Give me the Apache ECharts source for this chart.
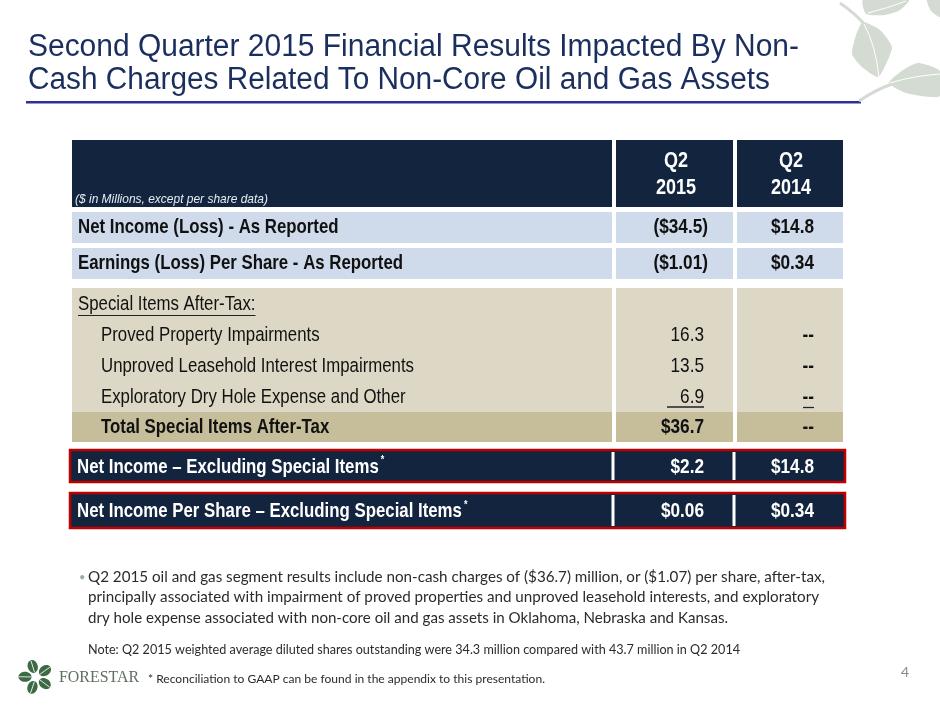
<!DOCTYPE html>
<html><head><meta charset="utf-8">
<script src="https://cdn.jsdelivr.net/npm/echarts@6/dist/echarts.min.js"></script>
<style>html,body{margin:0;padding:0;background:#fff}#c{width:940px;height:705px}</style>
</head><body><div id="c"></div>
<script>
// ---- DATA ----
const titleLines = ['Second Quarter 2015 Financial Results Impacted By Non-', 'Cash Charges Related To Non-Core Oil and Gas Assets'];
const unitNote = '($ in Millions, except per share data)';
const columnHeads = [['Q2', '2015'], ['Q2', '2014']];
const reportedLabels = ['Net Income (Loss) - As Reported', 'Earnings (Loss) Per Share - As Reported'];
const reported2015 = ['($34.5)', '($1.01)'];
const reported2014 = ['$14.8', '$0.34'];
const specialHeader = 'Special Items After-Tax:';
const specialLabels = ['Proved Property Impairments', 'Unproved Leasehold Interest Impairments', 'Exploratory Dry Hole Expense and Other'];
const special2015 = ['16.3', '13.5', '6.9'];
const special2014 = ['--', '--', '--'];
const totalLabel = 'Total Special Items After-Tax';
const total2015 = '$36.7';
const total2014 = '--';
const exclLabels = ['Net Income \u2013 Excluding Special Items', 'Net Income Per Share \u2013 Excluding Special Items'];
const excl2015 = ['$2.2', '$0.06'];
const excl2014 = ['$14.8', '$0.34'];
const bulletLines = [
  'Q2 2015 oil and gas segment results include non-cash charges of ($36.7) million, or ($1.07) per share, after-tax,',
  'principally associated with impairment of proved properties and unproved leasehold interests, and exploratory',
  'dry hole expense associated with non-core oil and gas assets in Oklahoma, Nebraska and Kansas.'
];
const noteText = 'Note: Q2 2015 weighted average diluted shares outstanding were 34.3 million compared with 43.7 million in Q2 2014';
const footText = '* Reconciliation to GAAP can be found in the appendix to this presentation.';
const logoText = 'FORESTAR';
const pageNum = '4';

// ---- LAYOUT / STYLE ----
const SANS = "'Liberation Sans',Arial,sans-serif";
const BODY = "Lato,'Open Sans',sans-serif";
const SERIF = "'Liberation Serif','DejaVu Serif',serif";
const NARROW_SCALE = 0.82;
const NAVY = '#13243f', LBLUE = '#cfdbeb', TAN = '#ddd8c5', TAN2 = '#c6be9b', RED = '#c00000';
const cols = [[72, 612], [616, 733], [737, 843]];
const v2015Right = 704, v2014Right = 814;

const mctx = document.createElement('canvas').getContext('2d');
function fontStr(o) { return `${o.style || 'normal'} ${o.weight || 'normal'} ${o.size}px ${o.family}`; }
function measure(t, o) { mctx.font = fontStr(o); return mctx.measureText(t).width; }

const els = [];
function rect(x, y, w, h, fill, extra) {
  els.push(Object.assign({type: 'rect', shape: {x, y, width: w, height: h}, style: {fill}, silent: true}, extra || {}));
}
// text: opt.scale = horizontal scale, opt.fit = target width
function text(t, x, y, opt) {
  opt = Object.assign({family: SANS, size: 21, weight: 'normal', style: 'normal', fill: '#111', align: 'left', scale: NARROW_SCALE}, opt || {});
  let sx = opt.scale;
  if (opt.fit) sx = opt.fit / measure(t, opt);
  els.push({type: 'text', silent: true, x, y, scaleX: sx, scaleY: 1, style: {
    text: t, x: 0, y: 0,
    fontFamily: opt.family, fontSize: opt.size, fontWeight: opt.weight, fontStyle: opt.style,
    fill: opt.fill, textAlign: opt.align, textVerticalAlign: 'middle', align: opt.align, verticalAlign: 'middle'
  }, z: 10});
  return measure(t, opt) * sx;
}
function line(x1, y1, x2, y2, stroke, w) {
  els.push({type: 'line', silent: true, shape: {x1, y1, x2, y2}, style: {stroke, lineWidth: w}, z: 11});
}

// Title
text(titleLines[0], 28, 47, {size: 31, fill: '#1b2f5e', fit: 771});
text(titleLines[1], 28, 80, {size: 31, fill: '#1b2f5e', fit: 742});
rect(26, 101, 835, 2.5, '#2f2f9c');

// Header
cols.forEach(c => rect(c[0], 140, c[1] - c[0], 67, NAVY));
text(unitNote, 75, 199, {size: 13, style: 'italic', fill: '#e8ecf2', fit: 193});
columnHeads.forEach((h, i) => {
  const cx = i === 0 ? 676 : 791;
  text(h[0], cx, 161, {size: 22, weight: 'bold', fill: '#fff', align: 'center'});
  text(h[1], cx, 188, {size: 22, weight: 'bold', fill: '#fff', align: 'center'});
});

// Reported rows
const repY = [[212, 31], [248, 31]];
reportedLabels.forEach((lab, i) => {
  const [y, h] = repY[i];
  cols.forEach(c => rect(c[0], y, c[1] - c[0], h, LBLUE));
  const cy = y + h / 2;
  text(lab, 78, cy, {size: 20.5, weight: 'bold'});
  const v = reported2015[i];
  text(v, v.endsWith(')') ? v2015Right + 4 : v2015Right, cy, {size: 21, weight: 'bold', align: 'right'});
  text(reported2014[i], v2014Right, cy, {size: 21, weight: 'bold', align: 'right'});
});

// Special items block
cols.forEach(c => { rect(c[0], 288, c[1] - c[0], 124, TAN); rect(c[0], 412, c[1] - c[0], 30, TAN2); });
const shw = text(specialHeader, 78, 304, {size: 20.5});
line(78, 315.5, 78 + shw, 315.5, '#222', 1);
const spY = [335, 366, 397];
specialLabels.forEach((lab, i) => {
  text(lab, 101, spY[i], {size: 20.5});
  text(special2015[i], v2015Right, spY[i], {size: 21, align: 'right'});
  text(special2014[i], v2014Right, spY[i], {size: 21, align: 'right', weight: 'bold'});
});
line(667, 407, 704, 407, '#222', 1.3);
line(803, 407.5, 814, 407.5, '#222', 1.3);
text(totalLabel, 101, 427, {size: 20.5, weight: 'bold'});
text(total2015, v2015Right, 427, {size: 21, weight: 'bold', align: 'right'});
text(total2014, v2014Right, 427, {size: 21, weight: 'bold', align: 'right'});

// Excluding special items rows
const exY = [[450, 32], [493, 35]];
exclLabels.forEach((lab, i) => {
  const [y, h] = exY[i];
  rect(70, y, 775, h, NAVY, {style: {fill: NAVY, stroke: RED, lineWidth: 2.5}});
  rect(611.5, y + 2, 3, h - 4, '#fff', {z: 5});
  rect(732.5, y + 2, 3, h - 4, '#fff', {z: 5});
  const cy = y + h / 2 + 1;
  const w = text(lab, 77, cy, {size: 20.5, weight: 'bold', fill: '#fff'});
  text('*', 77 + w + 2, cy - 7, {size: 11, weight: 'bold', fill: '#fff'});
  text(excl2015[i], v2015Right, cy, {size: 21, weight: 'bold', fill: '#fff', align: 'right'});
  text(excl2014[i], v2014Right, cy, {size: 21, weight: 'bold', fill: '#fff', align: 'right'});
});

// Bullet + notes
text('\u2022', 79, 577, {family: BODY, size: 11, fill: '#9aa', scale: 1});
const bulletFits = [737, 731, 640];
bulletLines.forEach((l, i) => text(l, 88, 577 + i * 20.5, {family: BODY, size: 15, fill: '#2b2b2b', scale: 1, fit: bulletFits[i]}));
text(noteText, 88, 650, {family: BODY, size: 12.6, fill: '#2b2b2b', scale: 1, fit: 652});
text(footText, 148, 679, {family: BODY, size: 12, fill: '#2b2b2b', scale: 1, fit: 397});
text(pageNum, 905, 672, {family: BODY, size: 14, fill: '#8a8a8a', align: 'center', scale: 1});

// Logo: five leaves around a hollow centre
for (let k = 0; k < 5; k++) {
  const rot = -k * Math.PI * 2 / 5 + 0.3;
  els.push({type: 'ellipse', silent: true, shape: {cx: 0, cy: -11, rx: 5, ry: 6.5},
    x: 36, y: 677, rotation: rot, style: {fill: '#3b6a44'}});
  els.push({type: 'line', silent: true, shape: {x1: 0, y1: -5, x2: 0, y2: -17},
    x: 36, y: 677, rotation: rot, style: {stroke: '#fff', lineWidth: 0.8}, z: 3});
}
text(logoText, 59, 678, {family: SERIF, size: 17, fill: '#5f6e60', fit: 80});

// Decorative leaves (top right)
const LEAF = '#d4dbd2';
function poly(points, sm) { els.push({type: 'polygon', silent: true, shape: {points, smooth: sm}, style: {fill: LEAF}}); }
function curve(x1, y1, cx, cy, x2, y2, stroke, w) {
  els.push({type: 'bezierCurve', silent: true, shape: {x1, y1, cpx1: cx, cpy1: cy, x2, y2}, style: {stroke, lineWidth: w, fill: null}, z: 2});
}
curve(840, 3, 856, 14, 866, 26, LEAF, 3);
poly([[863, 22], [880, 30], [892, 47], [886, 64], [878, 77], [862, 67], [852, 54], [856, 35]], 0.2);
curve(864, 24, 876, 46, 879, 78, '#fff', 1);
poly([[863, 0], [909, 0], [900, 10], [885, 15], [866, 14]], 0.2);
curve(868, 13, 888, 8, 906, 1, '#fff', 1);
poly([[927, 0], [940, 0], [940, 17], [931, 11]], 0.2);
curve(859, 101, 875, 90, 892, 84, LEAF, 3);
poly([[889, 83], [903, 70], [918, 63], [940, 71], [940, 96], [930, 97], [906, 93]], 0.2);
curve(890, 83, 912, 76, 940, 74, '#fff', 1);

const chart = echarts.init(document.getElementById('c'), null, {renderer: 'canvas'});
chart.setOption({backgroundColor: '#fff', animation: false, graphic: {elements: els}});
</script></body></html>
